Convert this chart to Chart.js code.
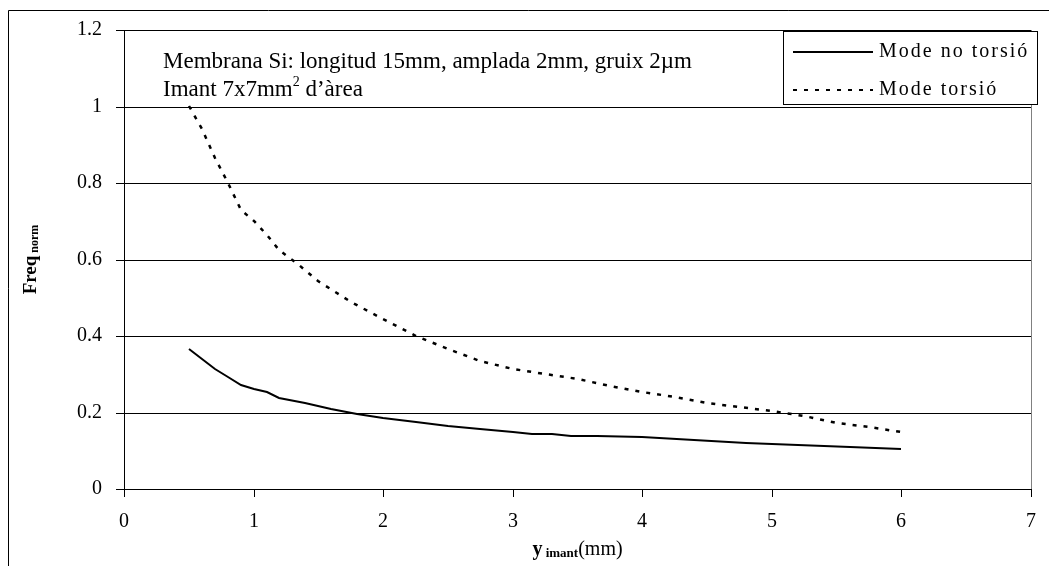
<!DOCTYPE html>
<html>
<head>
<meta charset="utf-8">
<script src="https://cdn.jsdelivr.net/npm/chart.js@4/dist/chart.umd.min.js"></script>
<style>
html, body { margin: 0; padding: 0; background: #fff; }
#wrap { width: 1049px; height: 566px; }
</style>
</head>
<body>
<div id="wrap"><canvas id="myChart" width="1049" height="566"></canvas></div>
<script>
// y_imant (mm) i freq normalitzada, llegits del grafic
var xNoTorsio    = [0.5, 0.6, 0.7, 0.8, 0.9, 1.0, 1.1, 1.2, 1.4, 1.6, 1.8, 2.0, 2.25, 2.5, 2.75, 3.0, 3.15, 3.3, 3.45, 3.65, 4.0, 4.4, 4.8, 5.2, 5.6, 6.0];
var freqNoTorsio = [0.365, 0.34, 0.315, 0.292, 0.272, 0.262, 0.253, 0.238, 0.225, 0.21, 0.197, 0.186, 0.175, 0.165, 0.157, 0.15, 0.144, 0.144, 0.139, 0.139, 0.135, 0.129, 0.12, 0.116, 0.111, 0.105];

var xTorsio    = [0.5, 0.6, 0.7, 0.8, 0.9, 1.0, 1.1, 1.2, 1.35, 1.5, 1.75, 2.0, 2.25, 2.5, 2.75, 3.0, 3.25, 3.5, 3.75, 4.0, 4.25, 4.5, 4.75, 5.0, 5.25, 5.5, 5.75, 6.0];
var freqTorsio = [1.0, 0.94, 0.865, 0.8, 0.73, 0.7, 0.665, 0.625, 0.585, 0.545, 0.49, 0.445, 0.4, 0.365, 0.335, 0.315, 0.3, 0.287, 0.268, 0.254, 0.24, 0.225, 0.215, 0.203, 0.19, 0.172, 0.162, 0.15];

var seriesLabels = ['Mode no torsió', 'Mode torsió'];
var noteLine1 = 'Membrana Si: longitud 15mm, amplada 2mm, gruix 2\u00b5m';
var noteLine2a = 'Imant 7x7mm';
var noteLine2b = ' d\u2019\u00e0rea';
var yMin = 0, yMax = 1.2, yStep = 0.2;
var xMin = 0, xMax = 7, xStep = 1;

function toPoints(xs, ys) {
    return xs.map(function (x, i) { return { x: x, y: ys[i] }; });
}

var serif = "'Liberation Serif', 'DejaVu Serif', serif";

var decor = {
    id: 'decor',
    afterDraw: function (chart) {
        var ctx = chart.ctx;
        var a = chart.chartArea;
        ctx.save();

        // marc exterior
        ctx.strokeStyle = '#000';
        ctx.lineWidth = 1;
        ctx.beginPath();
        ctx.moveTo(8.5, 566);
        ctx.lineTo(8.5, 10.5);
        ctx.lineTo(1049, 10.5);
        ctx.stroke();

        // vora dreta de l'area
        ctx.strokeStyle = '#808080';
        ctx.beginPath();
        ctx.moveTo(Math.round(a.right) + 0.5, a.top);
        ctx.lineTo(Math.round(a.right) + 0.5, a.bottom);
        ctx.stroke();

        // text de notes
        ctx.fillStyle = '#000';
        ctx.textBaseline = 'alphabetic';
        ctx.textAlign = 'left';
        ctx.font = '23px ' + serif;
        ctx.fillText(noteLine1, 163, 68);
        ctx.fillText(noteLine2a, 163, 96);
        var w = ctx.measureText(noteLine2a).width;
        ctx.font = '14px ' + serif;
        ctx.fillText('2', 163 + w, 86);
        var w2 = ctx.measureText('2').width;
        ctx.font = '23px ' + serif;
        ctx.fillText(noteLine2b, 163 + w + w2, 96);

        // llegenda
        var lx = 783, ly = 31, lw = 254, lh = 73;
        ctx.fillStyle = '#fff';
        ctx.fillRect(lx, ly, lw, lh);
        ctx.strokeStyle = '#000';
        ctx.lineWidth = 1;
        ctx.strokeRect(lx + 0.5, ly + 0.5, lw, lh);
        chart.data.datasets.forEach(function (ds, i) {
            var yy = 52 + i * 38;
            ctx.strokeStyle = '#000';
            ctx.lineWidth = 2;
            ctx.setLineDash(ds.borderDash || []);
            ctx.beginPath();
            ctx.moveTo(793, yy);
            ctx.lineTo(873, yy);
            ctx.stroke();
            ctx.setLineDash([]);
            ctx.fillStyle = '#000';
            ctx.font = '20px ' + serif;
            ctx.letterSpacing = '2px';
            ctx.textBaseline = 'middle';
            ctx.fillText(ds.label, 879, yy);
            ctx.letterSpacing = '0px';
        });

        // titol eix y
        ctx.save();
        ctx.translate(31, (a.top + a.bottom) / 2);
        ctx.rotate(-Math.PI / 2);
        ctx.textBaseline = 'middle';
        ctx.textAlign = 'left';
        ctx.font = 'bold 19px ' + serif;
        var t1 = 'Freq';
        var t2 = ' norm';
        var wa = ctx.measureText(t1).width;
        ctx.font = 'bold 12px ' + serif;
        var wb = ctx.measureText(t2).width;
        var sx = -(wa + wb) / 2;
        ctx.font = 'bold 19px ' + serif;
        ctx.fillText(t1, sx, 0);
        ctx.font = 'bold 12px ' + serif;
        ctx.fillText(t2, sx + wa, 4);
        ctx.restore();

        // titol eix x
        ctx.textBaseline = 'alphabetic';
        ctx.textAlign = 'left';
        var p1 = 'y', p2 = ' imant', p3 = '(mm)';
        ctx.font = 'bold 20px ' + serif;
        var q1 = ctx.measureText(p1).width;
        ctx.font = 'bold 13px ' + serif;
        var q2 = ctx.measureText(p2).width;
        ctx.font = '20px ' + serif;
        var q3 = ctx.measureText(p3).width;
        var bx = (a.left + a.right) / 2 - (q1 + q2 + q3) / 2;
        var by = 555;
        ctx.font = 'bold 20px ' + serif;
        ctx.fillText(p1, bx, by);
        ctx.font = 'bold 13px ' + serif;
        ctx.fillText(p2, bx + q1, by + 2);
        ctx.font = '20px ' + serif;
        ctx.fillText(p3, bx + q1 + q2, by);

        ctx.restore();
    }
};

var tickFont = { family: serif, size: 20 };

new Chart(document.getElementById('myChart'), {
    type: 'line',
    data: {
        datasets: [
            {
                label: seriesLabels[0],
                data: toPoints(xNoTorsio, freqNoTorsio),
                borderColor: '#000',
                borderWidth: 2,
                pointRadius: 0,
                tension: 0,
                fill: false
            },
            {
                label: seriesLabels[1],
                data: toPoints(xTorsio, freqTorsio),
                borderColor: '#000',
                borderWidth: 2.5,
                borderDash: [4, 7],
                pointRadius: 0,
                tension: 0,
                fill: false
            }
        ]
    },
    options: {
        responsive: false,
        animation: false,
        devicePixelRatio: 1,
        layout: { padding: { left: 0, top: 30, right: 12, bottom: 0 } },
        plugins: {
            legend: { display: false },
            tooltip: { enabled: false }
        },
        scales: {
            x: {
                type: 'linear',
                min: xMin,
                max: xMax,
                alignToPixels: true,
                ticks: {
                    stepSize: xStep,
                    font: tickFont,
                    color: '#000',
                    padding: 13,
                    maxRotation: 0
                },
                grid: {
                    drawOnChartArea: false,
                    drawTicks: true,
                    tickLength: 8,
                    color: '#000'
                },
                border: { display: true, color: '#000', width: 1 },
                afterFit: function (scale) { scale.height = 77; }
            },
            y: {
                min: yMin,
                max: yMax,
                alignToPixels: true,
                ticks: {
                    stepSize: yStep,
                    font: tickFont,
                    color: '#000',
                    padding: 14,
                    callback: function (v) { return String(Number(v.toFixed(1))); }
                },
                grid: {
                    color: '#000',
                    lineWidth: 1,
                    drawTicks: true,
                    tickLength: 8
                },
                border: { display: true, color: '#000', width: 1 },
                afterFit: function (scale) { scale.width = 124; }
            }
        }
    },
    plugins: [decor]
});
</script>
</body>
</html>
